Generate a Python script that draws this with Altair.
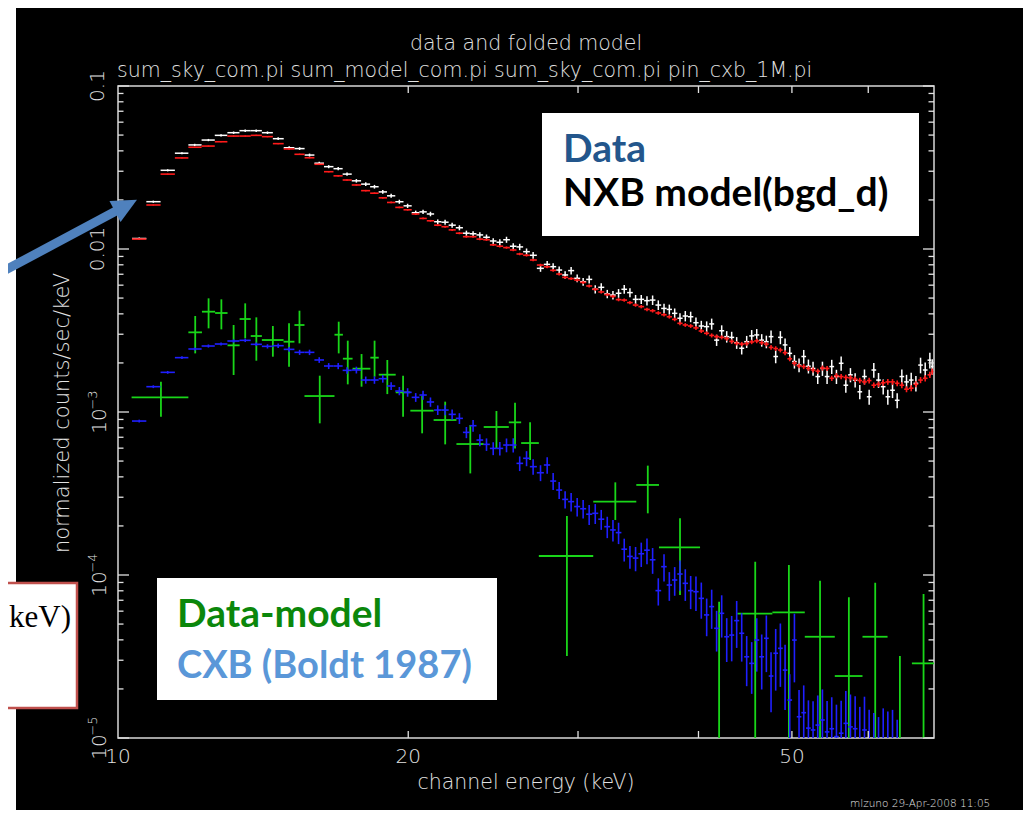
import altair as alt
import pandas as pd

# ---------------- data ----------------
# bin centres in keV, shared by the data, the NXB model and the CXB model
energy = [10.52, 10.88, 11.26, 11.65, 12.01, 12.41, 12.79, 13.18, 13.55, 13.91,
          14.29, 14.66, 15.05, 15.43, 15.80, 16.17, 16.54, 16.92, 17.28, 17.67,
          18.07, 18.45, 18.82, 19.20, 19.58, 19.97, 20.36, 20.72, 21.09, 21.46,
          21.84, 22.21, 22.60, 22.98, 23.35, 23.73, 24.11, 24.50, 24.89, 25.29,
          25.70, 26.10, 26.53, 26.95, 27.43, 27.87,
          28.27, 28.68, 29.09, 29.51, 29.94, 30.37, 30.81, 31.26, 31.71, 32.17,
          32.61, 33.05, 33.50, 33.96, 34.42, 34.89, 35.37, 35.85, 36.34, 36.84,
          37.31, 37.79, 38.27, 38.76, 39.26, 39.76, 40.27, 40.79, 41.28, 41.77,
          42.28, 42.79, 43.30, 43.82, 44.35, 44.88, 45.42, 45.97, 46.52, 47.04,
          47.57, 48.10, 48.64, 49.19, 49.74, 50.30, 50.86, 51.43, 52.01, 52.59,
          53.18, 53.78, 54.38, 54.99, 55.61, 56.24, 56.87, 57.50, 58.15, 58.80,
          59.46, 60.13, 60.80, 61.49, 62.18, 62.87, 63.58, 64.29, 65.01, 65.74,
          66.48, 67.23, 67.98, 68.74, 69.51, 69.90]

data_counts = [0.0116, 0.01951, 0.0304, 0.0387, 0.0435, 0.0466, 0.0498, 0.0517, 0.0532, 0.0532,
               0.0517, 0.0475, 0.0418, 0.0413, 0.0377, 0.0336, 0.0320, 0.0311, 0.0288, 0.0262,
               0.0250, 0.0241, 0.0224, 0.0212, 0.0195, 0.0184, 0.0167, 0.0169, 0.0164, 0.0147,
               0.0146, 0.0140, 0.0135, 0.0125, 0.0124, 0.0122, 0.0118, 0.0112, 0.0110, 0.0114,
               0.0104, 0.0103, 0.00963, 0.00915, 0.00761, 0.00805,
               0.00779, 0.00743, 0.00693, 0.00737, 0.00661, 0.00630, 0.00651, 0.00566, 0.00582, 0.00530,
               0.00522, 0.00535, 0.00566, 0.00540, 0.00491, 0.00491, 0.00482, 0.00486, 0.00453, 0.00432,
               0.00426, 0.00403, 0.00376, 0.00388, 0.00384, 0.00353, 0.00337, 0.00334, 0.00347, 0.00276,
               0.00315, 0.00290, 0.00287, 0.00266, 0.00246, 0.00270, 0.00293, 0.00297, 0.00276, 0.00270,
               0.00290, 0.00219, 0.00287, 0.00258, 0.00229, 0.00204, 0.00194, 0.00219, 0.00191, 0.00185,
               0.00165, 0.00185, 0.00165, 0.00190, 0.00165, 0.00199, 0.00146, 0.00169, 0.00157, 0.00133,
               0.00165, 0.00124, 0.00181, 0.00157, 0.00143, 0.00124, 0.00136, 0.00118, 0.00165, 0.00153,
               0.00157, 0.00150, 0.00194, 0.00181, 0.00208, 0.00190]
data_relerr = [0.015, 0.015, 0.015, 0.015, 0.016, 0.016, 0.016, 0.017, 0.017, 0.018,
               0.018, 0.019, 0.020, 0.020, 0.021, 0.022, 0.022, 0.023, 0.024, 0.025,
               0.026, 0.026, 0.027, 0.028, 0.029, 0.030, 0.030, 0.031, 0.032, 0.033,
               0.034, 0.035, 0.036, 0.037, 0.038, 0.039, 0.040, 0.041, 0.042, 0.043,
               0.044, 0.045, 0.046, 0.047, 0.048, 0.049,
               0.050, 0.051, 0.052, 0.053, 0.054, 0.055, 0.056, 0.057, 0.058, 0.059,
               0.060, 0.061, 0.062, 0.063, 0.064, 0.065, 0.066, 0.067, 0.068, 0.069,
               0.070, 0.071, 0.072, 0.073, 0.074, 0.075, 0.076, 0.077, 0.078, 0.079,
               0.080, 0.081, 0.082, 0.083, 0.084, 0.085, 0.086, 0.087, 0.088, 0.089,
               0.090, 0.091, 0.092, 0.093, 0.094, 0.095, 0.096, 0.097, 0.098, 0.099,
               0.100, 0.100, 0.100, 0.100, 0.100, 0.100, 0.100, 0.100, 0.100, 0.100,
               0.105, 0.105, 0.105, 0.105, 0.105, 0.105, 0.105, 0.105, 0.105, 0.105,
               0.110, 0.110, 0.110, 0.110, 0.110, 0.110]

nxb_model = [0.01151, 0.01862, 0.0288, 0.0362, 0.0421, 0.0428, 0.0455, 0.0493, 0.0493, 0.0498,
             0.0489, 0.0443, 0.0411, 0.0381, 0.0363, 0.0331, 0.0298, 0.0281, 0.0265, 0.0247,
             0.0228, 0.0220, 0.0206, 0.0193, 0.0180, 0.0174, 0.0164, 0.0154, 0.0149, 0.0140,
             0.0137, 0.0131, 0.0125, 0.0119, 0.0119, 0.0115, 0.0114, 0.0106, 0.0104, 0.0102,
             0.00986, 0.00932, 0.00915, 0.00856, 0.00797, 0.00778,
             0.00740, 0.00702, 0.00670, 0.00658, 0.00645, 0.00624, 0.00593, 0.00566, 0.00545, 0.00525,
             0.00512, 0.00489, 0.00486, 0.00469, 0.00453, 0.00443, 0.00426, 0.00418, 0.00405, 0.00395,
             0.00384, 0.00370, 0.00350, 0.00342, 0.00337, 0.00328, 0.00314, 0.00304, 0.00295, 0.00290,
             0.00287, 0.00282, 0.00271, 0.00264, 0.00261, 0.00263, 0.00269, 0.00273, 0.00266, 0.00261,
             0.00249, 0.00245, 0.00240, 0.00231, 0.00212, 0.00199, 0.00192, 0.00190, 0.00185, 0.00181,
             0.00178, 0.00186, 0.00185, 0.00161, 0.00167, 0.00165, 0.00163, 0.00162, 0.00159, 0.00156,
             0.00153, 0.00156, 0.00146, 0.00148, 0.00151, 0.00153, 0.00153, 0.00150, 0.00146, 0.00138,
             0.00140, 0.00148, 0.00157, 0.00161, 0.00169, 0.00177]
nxb_relerr = [0.008, 0.008, 0.008, 0.008, 0.008, 0.008, 0.008, 0.008, 0.008, 0.008,
              0.009, 0.009, 0.009, 0.009, 0.009, 0.010, 0.010, 0.010, 0.010, 0.010,
              0.011, 0.011, 0.011, 0.012, 0.012, 0.012, 0.013, 0.013, 0.013, 0.014,
              0.014, 0.014, 0.015, 0.015, 0.015, 0.016, 0.016, 0.016, 0.017, 0.017,
              0.017, 0.018, 0.018, 0.018, 0.019, 0.019,
              0.019, 0.020, 0.020, 0.020, 0.021, 0.021, 0.021, 0.022, 0.022, 0.022,
              0.023, 0.023, 0.023, 0.024, 0.024, 0.024, 0.025, 0.025, 0.025, 0.026,
              0.026, 0.026, 0.027, 0.027, 0.027, 0.028, 0.028, 0.028, 0.029, 0.029,
              0.029, 0.030, 0.030, 0.030, 0.031, 0.031, 0.031, 0.032, 0.032, 0.032,
              0.033, 0.033, 0.033, 0.034, 0.034, 0.034, 0.035, 0.035, 0.035, 0.036,
              0.036, 0.036, 0.037, 0.037, 0.037, 0.038, 0.038, 0.038, 0.039, 0.039,
              0.039, 0.040, 0.040, 0.040, 0.041, 0.041, 0.041, 0.042, 0.042, 0.042,
              0.043, 0.043, 0.043, 0.044, 0.044, 0.044]

cxb_model = [0.000880, 0.001430, 0.001751, 0.002155, 0.002435, 0.002540, 0.002613, 0.002726, 0.002752, 0.002601,
             0.002528, 0.002552, 0.002423, 0.002323, 0.002323, 0.002085, 0.001915, 0.001915, 0.001801, 0.001810,
             0.001571, 0.001571, 0.001601, 0.001444, 0.001345, 0.001320, 0.001230, 0.001271, 0.001152, 0.001028,
             0.001028, 0.000967, 0.000914, 0.000750, 0.000824, 0.000673, 0.000633, 0.000598, 0.000598, 0.000627,
             0.000627, 0.000484, 0.000520, 0.000462, 0.000424, 0.000473,
             0.000377, 0.000332, 0.000291, 0.000282, 0.000263, 0.000255, 0.000236, 0.000239, 0.000220, 0.000198,
             0.000189, 0.000182, 0.000144, 0.000130, 0.000127, 0.000135, 0.000142, 0.000124, 0.0000802, 0.0001125,
             0.0000868, 0.0000932, 0.0001014, 0.0000889, 0.0000802, 0.0000790, 0.0000719, 0.0000569, 0.0000640, 0.0000471,
             0.0000582, 0.0000418, 0.0000428, 0.0000525, 0.0000439, 0.0000315, 0.0000287, 0.0000399, 0.0000315, 0.0000409,
             0.0000240, 0.0000331, 0.0000355, 0.0000261, 0.0000171, 0.0000399, 0.0000135, 0.0000143, 0.0000115, 0.0000112,
             0.0000120, 0.0000129, 0.0000109, 0.0000114, 0.0000102, 0.0000107, 0.0000123, 0.0000117, 0.0000114, 0.0000097,
             0.0000112, 0.0000093, 0.0000089, 0.0000084, 0.0000095, 0.0000091, 0.0000093, 0.0000081, None, None,
             None, None, None, None, None, None]
cxb_relerr = [0.020, 0.020, 0.020, 0.020, 0.022, 0.022, 0.022, 0.024, 0.024, 0.025,
              0.030, 0.032, 0.034, 0.036, 0.038, 0.040, 0.042, 0.044, 0.046, 0.048,
              0.050, 0.052, 0.054, 0.056, 0.058, 0.060, 0.062, 0.064, 0.066, 0.068,
              0.070, 0.073, 0.076, 0.079, 0.082, 0.085, 0.088, 0.091, 0.094, 0.097,
              0.100, 0.103, 0.106, 0.109, 0.112, 0.115,
              0.12, 0.12, 0.12, 0.13, 0.13, 0.13, 0.14, 0.14, 0.14, 0.15,
              0.15, 0.15, 0.16, 0.16, 0.17, 0.17, 0.18, 0.18, 0.19, 0.19,
              0.20, 0.20, 0.21, 0.22, 0.23, 0.24, 0.25, 0.26, 0.27, 0.28,
              0.29, 0.30, 0.31, 0.32, 0.33, 0.34, 0.35, 0.36, 0.37, 0.38,
              0.40, 0.41, 0.42, 0.43, 0.44, 0.45, 0.46, 0.47, 0.48, 0.50,
              0.52, 0.54, 0.55, 0.56, 0.57, 0.58, 0.58, 0.58, 0.58, 0.60,
              0.60, 0.60, 0.60, 0.60, 0.60, 0.60, 0.60, 0.60, 0.60, 0.60,
              0.60, 0.60, 0.60, 0.60, 0.60, 0.60]

# data minus model, rebinned (edges in keV, value and error-bar ends)
resid_lo = [10.33, 11.83, 12.22, 12.61, 12.99, 13.37, 13.73, 14.10, 14.85, 15.24,
            15.61, 16.77, 17.11, 17.51, 18.27, 18.64, 19.41, 20.10, 21.25, 22.44,
            23.95, 25.43, 26.19, 27.32, 31.11, 34.48, 36.40, 40.15, 43.89, 47.72,
            51.56, 55.39, 59.18, 62.83, 66.59]
resid_hi = [11.83, 12.22, 12.61, 12.99, 13.37, 13.73, 14.10, 14.85, 15.24, 15.61,
            16.77, 17.11, 17.51, 18.27, 18.64, 19.41, 20.10, 21.25, 22.44, 23.95,
            25.43, 26.19, 27.32, 31.11, 34.48, 36.40, 40.15, 43.89, 47.72, 51.56,
            55.39, 59.18, 62.83, 66.59, 70.35]
resid_val = [0.001230, 0.003081, 0.004125, 0.004048, 0.002564, 0.003719, 0.002925, 0.002764, 0.002700, 0.003417,
             0.001253, 0.002980, 0.002124, 0.001844, 0.002155, 0.001694, 0.001320, 0.001019, 0.000893, 0.000636,
             0.000809, 0.000864, 0.000645, 0.0001308, 0.0002818, 0.0003568, 0.0001478, 0.000004, 0.0000579, 0.0000590,
             0.0000418, 0.0000240, 0.0000418, 0.000004, 0.0000287]
resid_up = [0.001534, 0.003880, 0.004981, 0.004911, 0.003417, 0.004640, 0.003808, 0.003369, 0.003498, 0.004183,
            0.001670, 0.003581, 0.002739, 0.002268, 0.002739, 0.002085, 0.001670, 0.001253, 0.001157, 0.000832,
            0.001014, 0.001141, 0.000864, 0.0002302, 0.0003702, 0.0004687, 0.0002227, 0.0000686, 0.0001207, 0.0001152,
            0.0000923, 0.0000730, 0.0000897, 0.0000319, 0.0000765]
resid_dn = [0.000936, 0.002289, 0.003260, 0.003214, 0.001686, 0.002830, 0.002064, 0.002184, 0.001897, 0.002637,
            0.000852, 0.002289, 0.001478, 0.001430, 0.001647, 0.001288, 0.000936, 0.000740, 0.000633, 0.000420,
            0.000598, 0.000598, 0.000507, 0.0000319, 0.0002176, 0.0002390, 0.0000754, 0.000001, 0.000001, 0.000001,
            0.000001, 0.000001, 0.000001, 0.000001, 0.000001]

# axis ticks and labels
x_ticks = [20, 30, 40, 50, 60]
x_labels = [10, 20, 50]
y_plain = [1e-2, 1e-1]
y_plain_labels = ["0.01", "0.1"]
y_power = [1e-5, 1e-4, 1e-3]
y_power_exps = ["−5", "−4", "−3"]
y_major = [1e-5, 1e-4, 1e-3, 1e-2, 1e-1]
y_minor = [2e-5, 3e-5, 4e-5, 5e-5, 6e-5, 7e-5, 8e-5, 9e-5,
           2e-4, 3e-4, 4e-4, 5e-4, 6e-4, 7e-4, 8e-4, 9e-4,
           2e-3, 3e-3, 4e-3, 5e-3, 6e-3, 7e-3, 8e-3, 9e-3,
           2e-2, 3e-2, 4e-2, 5e-2, 6e-2, 7e-2, 8e-2, 9e-2]

# ---------------- layout ----------------
W, H = 816, 652
PX0, PY0 = 118, 86          # page position of the plot origin


def px(x):
    return x - PX0


def py(y):
    return y - PY0


xs = alt.Scale(type="log", domain=[10, 70.2], nice=False)
ys = alt.Scale(type="log", domain=[1e-5, 0.1], nice=False)

# bin edges from neighbouring centres
mids = [(energy[i] + energy[i + 1]) / 2 for i in range(len(energy) - 1)]
lo_edges = [2 * energy[0] - mids[0]] + mids
hi_edges = mids + [2 * energy[-1] - mids[-1]]


def series(vals, rel):
    rows = []
    for e, l, h, v, r in zip(energy, lo_edges, hi_edges, vals, rel):
        if v is None:
            continue
        rows.append({"E": e, "lo": l, "hi": h, "y": v,
                     "ylo": max(v * (1 - r), 1e-7), "yhi": v * (1 + r)})
    return pd.DataFrame(rows)


def crosses(df, color, sw):
    base = alt.Chart(df)
    hbar = base.mark_rule(color=color, strokeWidth=sw, clip=True).encode(
        x=alt.X("lo:Q", scale=xs, axis=None), x2="hi:Q",
        y=alt.Y("y:Q", scale=ys, axis=None))
    vbar = base.mark_rule(color=color, strokeWidth=sw, clip=True).encode(
        x=alt.X("E:Q", scale=xs, axis=None),
        y=alt.Y("ylo:Q", scale=ys, axis=None), y2="yhi:Q")
    return [hbar, vbar]


white_df = series(data_counts, data_relerr)
red_df = series(nxb_model, nxb_relerr)
blue_df = series(cxb_model, cxb_relerr)
green_df = pd.DataFrame({
    "lo": resid_lo, "hi": resid_hi,
    "E": [(a + b) / 2 for a, b in zip(resid_lo, resid_hi)],
    "y": resid_val, "ylo": resid_dn, "yhi": resid_up})

one = alt.Data(values=[{"k": 1}])
PG_FONT = "'DejaVu Sans', Lato"
PG_W = 200
PG_COL = "#e2e2e2"


def rect(x0, y0, x1, y1, fill, stroke=None, sw=0):
    kw = dict(fill=fill)
    if stroke:
        kw.update(stroke=stroke, strokeWidth=sw)
    return alt.Chart(one).mark_rect(**kw).encode(
        x=alt.value(px(x0)), x2=alt.value(px(x1)),
        y=alt.value(py(y0)), y2=alt.value(py(y1)))


def label(x, y, s, size, color, weight="normal", font=PG_FONT, align="left",
          baseline="alphabetic", angle=0):
    kw = dict(fontSize=size, color=color, fontWeight=weight, font=font,
              align=align, baseline=baseline)
    if angle:
        kw["angle"] = angle
    return alt.Chart(one).mark_text(**kw).encode(
        x=alt.value(px(x)), y=alt.value(py(y)), text=alt.value(s))


layers = []
# white strip at the very left of the slide
layers.append(rect(-20, -20, 16, 830, "white"))

# data crosses
layers += crosses(white_df, "#ffffff", 1.5)
layers += crosses(red_df, "#ff1a1a", 1.6)
layers += crosses(green_df, "#19d619", 1.8)
layers += crosses(blue_df, "#1f1fff", 1.6)

# ticks (inward) drawn through the scales
xt = pd.DataFrame({"t": x_ticks})
layers.append(alt.Chart(xt).mark_rule(color=PG_COL, strokeWidth=1.3).encode(
    x=alt.X("t:Q", scale=xs, axis=None), y=alt.value(H), y2=alt.value(H - 7)))
layers.append(alt.Chart(xt).mark_rule(color=PG_COL, strokeWidth=1.3).encode(
    x=alt.X("t:Q", scale=xs, axis=None), y=alt.value(0), y2=alt.value(7)))
ymj = pd.DataFrame({"t": y_major})
ymn = pd.DataFrame({"t": y_minor})
for d, ln in ((ymj, 11), (ymn, 5.5)):
    layers.append(alt.Chart(d).mark_rule(color=PG_COL, strokeWidth=1.3).encode(
        y=alt.Y("t:Q", scale=ys, axis=None), x=alt.value(0), x2=alt.value(ln)))
    layers.append(alt.Chart(d).mark_rule(color=PG_COL, strokeWidth=1.3).encode(
        y=alt.Y("t:Q", scale=ys, axis=None), x=alt.value(W), x2=alt.value(W - ln)))

# tick labels
layers.append(alt.Chart(pd.DataFrame({"t": x_labels})).mark_text(
    font=PG_FONT, fontWeight=PG_W, fontSize=20, color=PG_COL,
    align="center", baseline="middle").encode(
    x=alt.X("t:Q", scale=xs, axis=None), y=alt.value(py(757)), text="t:N"))
layers.append(alt.Chart(pd.DataFrame({"t": y_plain, "lab": y_plain_labels})).mark_text(
    font=PG_FONT, fontWeight=PG_W, fontSize=20, color=PG_COL,
    align="center", baseline="middle", angle=270).encode(
    y=alt.Y("t:Q", scale=ys, axis=None), x=alt.value(px(98)), text="lab:N"))
pw = pd.DataFrame({"t": y_power, "exp": y_power_exps, "base": ["10", "10", "10"]})
layers.append(alt.Chart(pw).mark_text(
    font=PG_FONT, fontWeight=PG_W, fontSize=20, color=PG_COL,
    align="center", baseline="middle", angle=270, dx=-9).encode(
    y=alt.Y("t:Q", scale=ys, axis=None), x=alt.value(px(100)), text="base:N"))
layers.append(alt.Chart(pw).mark_text(
    font=PG_FONT, fontWeight=PG_W, fontSize=13, color=PG_COL,
    align="center", baseline="middle", angle=270, dx=12, dy=-7).encode(
    y=alt.Y("t:Q", scale=ys, axis=None), x=alt.value(px(100)), text="exp:N"))

# titles
layers.append(label(526, 44, "data and folded model", 20.5, PG_COL, PG_W,
                    align="center", baseline="middle"))
layers.append(label(117, 71, "sum_sky_com.pi sum_model_com.pi sum_sky_com.pi pin_cxb_1M.pi",
                    20.5, PG_COL, PG_W, baseline="middle"))
layers.append(label(526, 783, "channel energy (keV)", 20.5, PG_COL, PG_W,
                    align="center", baseline="middle"))
layers.append(label(63, 413, "normalized counts/sec/keV", 21, PG_COL, PG_W,
                    align="center", baseline="middle", angle=270))
layers.append(label(850, 804, "mlzuno 29-Apr-2008 11:05", 10.5, PG_COL, PG_W,
                    baseline="middle"))

# slide overlays
layers.append(rect(542, 113, 919, 236, "white"))
layers.append(label(563, 162, "Data", 39, "#23568c", "bold", font="Lato"))
layers.append(label(563, 206, "NXB model(bgd_d)", 39, "black", "bold", font="Lato"))

layers.append(rect(157, 578, 497, 700, "white"))
layers.append(label(177, 627, "Data-model", 39, "#0b870b", "bold", font="Lato"))
layers.append(label(177, 678, "CXB (Boldt 1987)", 38, "#5a97d8", "bold", font="Lato"))

layers.append(rect(-30, 583, 77, 708, "white", "#c0504d", 2.5))
layers.append(label(71, 627, "keV)", 31, "black", "normal",
                    font="Liberation Serif", align="right"))

# arrow
layers.append(alt.Chart(one).mark_rule(color="#4f81bd", strokeWidth=9,
                                       strokeCap="butt").encode(
    x=alt.value(px(-10)), x2=alt.value(px(116)),
    y=alt.value(py(278.3)), y2=alt.value(py(211))))
layers.append(alt.Chart(one).mark_point(
    shape="M1,0L-1,-0.95L-1,0.95Z", filled=True, fill="#4f81bd",
    color="#4f81bd", opacity=1, size=620, angle=332).encode(
    x=alt.value(px(126)), y=alt.value(py(205.6))))

chart = alt.layer(*layers).properties(
    width=W, height=H,
    padding={"left": 110, "top": 78, "right": 89, "bottom": 72},
    autosize=alt.AutoSizeParams(type="none"),
    background="black",
).configure_view(stroke="#d8d8d8", strokeWidth=1.5)

chart.save("out.html", embed_options={"renderer": "svg", "actions": False})
